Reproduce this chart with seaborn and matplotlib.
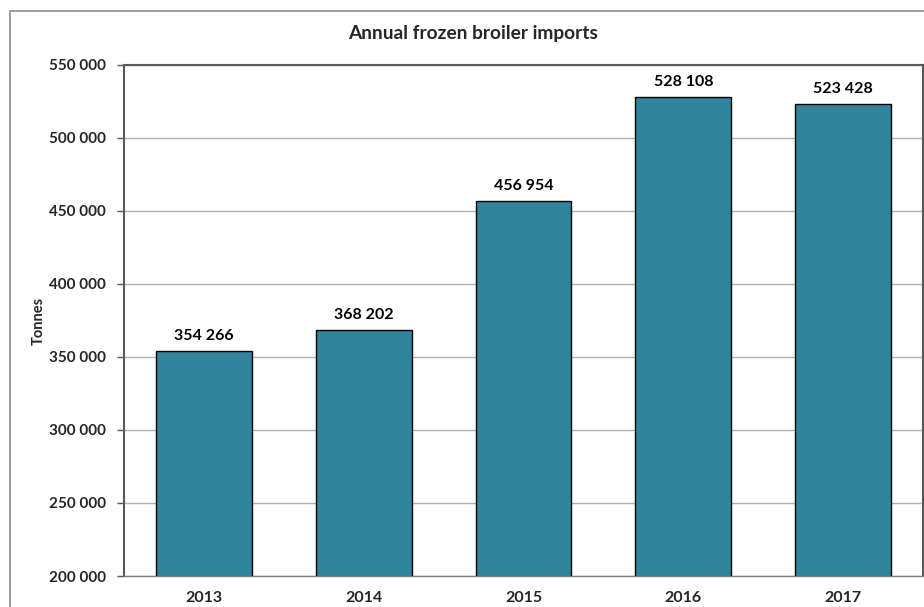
import matplotlib
matplotlib.use("Agg")
import matplotlib.pyplot as plt
from matplotlib.patches import Rectangle
import seaborn as sns
import pandas as pd

years = ["2013", "2014", "2015", "2016", "2017"]
tonnes = [354266, 368202, 456954, 528108, 523428]
y_ticks = [200000, 250000, 300000, 350000, 400000, 450000, 500000, 550000]

sns.set_theme(style="white")
plt.rcParams["font.family"] = ["Lato", "DejaVu Sans"]
plt.rcParams["font.weight"] = "bold"

df = pd.DataFrame({"year": years, "tonnes": tonnes})

fig = plt.figure(figsize=(9.24, 6.07), dpi=100)
ax = fig.add_axes([124 / 924, 1 - 576 / 607, (923 - 124) / 924, (576 - 65) / 607])

sns.barplot(data=df, x="year", y="tonnes", color="#31849B", saturation=1,
            width=0.6, edgecolor="black", linewidth=1.0, ax=ax, zorder=3)

def fmt(v):
    return f"{v:,}".replace(",", " ")

for i, v in enumerate(tonnes):
    ax.text(i, v + 5500, fmt(v), ha="center", va="bottom",
            fontsize=11.5, fontweight="bold", color="black")

ax.set_ylim(200000, 550000)
ax.set_xlim(-0.5, len(years) - 0.5)
ax.set_yticks(y_ticks)
ax.set_yticklabels([fmt(t) for t in y_ticks], fontsize=11, fontweight="bold")
ax.set_xticks(range(len(years)))
ax.set_xticklabels(years, fontsize=11.5, fontweight="bold")
ax.yaxis.grid(True, color="#B0B0B0", linewidth=1.0, zorder=0)
ax.set_axisbelow(True)

# category boundary ticks on the x axis
ax.tick_params(axis="x", length=0, pad=11)
ax.set_xticks([i - 0.5 for i in range(len(years) + 1)], minor=True)
ax.tick_params(axis="x", which="minor", length=5, width=1, color="#808080", direction="out")
ax.tick_params(axis="y", length=5, width=1, color="#595959", direction="out", pad=8, left=True)

for side in ["left", "top", "right"]:
    ax.spines[side].set_color("#595959")
    ax.spines[side].set_linewidth(1.5)
ax.spines["bottom"].set_color("#808080")
ax.spines["bottom"].set_linewidth(1.0)

ax.set_xlabel("")
ax.set_ylabel("Tonnes", fontsize=10.5, fontweight="bold")
ax.yaxis.set_label_coords(-78 / 799, 0.5)

fig.text(473 / 924, 1 - 34 / 607, "Annual frozen broiler imports",
         ha="center", va="center", fontsize=13.8, fontweight="bold")

# chart area outline
fig.patches.append(Rectangle((10 / 924, -0.1), 1.2, 1 - 11 / 607 + 0.1,
                             transform=fig.transFigure, fill=False,
                             edgecolor="#8C8C8C", linewidth=1.2, clip_on=False))

fig.savefig("out.png", dpi=100)
